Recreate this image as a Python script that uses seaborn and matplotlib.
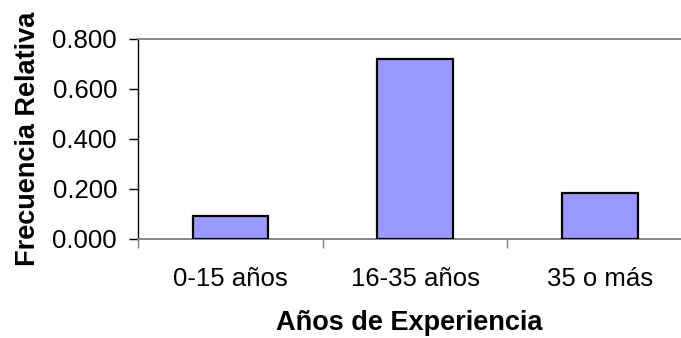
import matplotlib
matplotlib.use("Agg")
import matplotlib.pyplot as plt
import pandas as pd
import seaborn as sns

# Datos
categorias = ["0-15 años", "16-35 años", "35 o más"]
frecuencia_relativa = [0.094, 0.719, 0.184]
y_ticks = [0.0, 0.2, 0.4, 0.6, 0.8]

df = pd.DataFrame({"cat": categorias, "val": frecuencia_relativa})

sns.set_theme(style="white")
plt.rcParams["font.family"] = ["Liberation Sans", "DejaVu Sans"]
plt.rcParams["text.color"] = "black"
plt.rcParams["xtick.color"] = "black"
plt.rcParams["ytick.color"] = "black"
plt.rcParams["axes.labelcolor"] = "black"

W, H = 681, 338
fig = plt.figure(figsize=(W / 100, H / 100), dpi=100)
# area del grafico: x 138..681, y 39..239 (pixeles)
ax = fig.add_axes([138 / W, 1 - 239 / H, (W - 138) / W, 200 / H])

sns.barplot(data=df, x="cat", y="val", color="#9999FF", saturation=1,
            width=0.409, edgecolor="black", linewidth=1.6, ax=ax, zorder=3)

ax.set_xlim(-0.5, -0.5 + (W - 138) / 184.7)
ax.set_ylim(0, 0.8)
ax.set_yticks(y_ticks)
ax.set_yticklabels([f"{v:.3f}" for v in y_ticks], fontsize=18.5)
ax.set_xticks(range(len(categorias)))
ax.set_xticklabels(categorias, fontsize=18.5)
ax.set_xticks([-0.5, 0.5, 1.5], minor=True)
ax.tick_params(axis="x", which="major", length=0, pad=20.5)
ax.tick_params(axis="x", which="minor", length=6.5, width=1, color="#808080",
               direction="out", bottom=True)
ax.tick_params(axis="y", length=6.5, width=1, color="black", direction="out",
               pad=8.6, left=True)

ax.spines["right"].set_visible(False)
ax.spines["left"].set_color("black")
ax.spines["left"].set_linewidth(1)
ax.spines["bottom"].set_color("#808080")
ax.spines["bottom"].set_linewidth(1.3)
ax.spines["top"].set_color("#808080")
ax.spines["top"].set_linewidth(1.3)

ax.set_xlabel("Años de Experiencia", fontsize=19.5, fontweight="bold", labelpad=13)
ax.set_ylabel("Frecuencia Relativa", fontsize=19.5, fontweight="bold", labelpad=8)

fig.savefig("out.png", dpi=100)
